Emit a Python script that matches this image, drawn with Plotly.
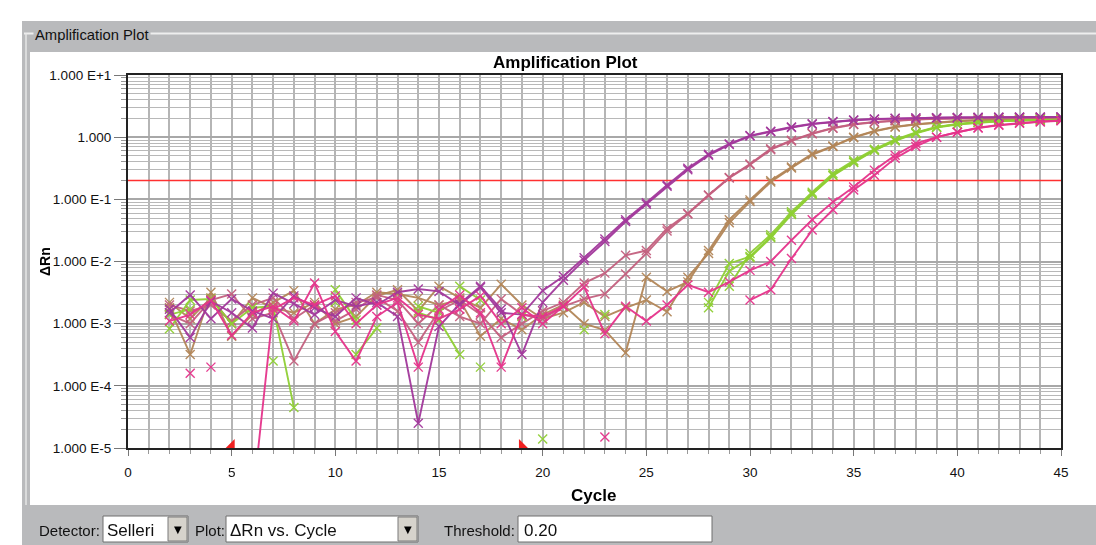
import math
import plotly.graph_objects as go

# ---------------- data ----------------
cycles = list(range(2, 46))

purple_a = [1.7e-3, 6.0e-4, 2.3e-3, 1.5e-3, 8.5e-4, 3.1e-3, 2.1e-3, 1.4e-3, 2.4e-3, 1.9e-3,
            2.2e-3, 1.3e-3, 2.5e-5, 9.0e-4, 2.1e-3, 4.0e-3, 1.7e-3, 3.2e-4, 2.2e-3, 5.0e-3,
            0.0105, 0.021, 0.044, 0.083, 0.162, 0.30, 0.51, 0.76, 1.04, 1.22,
            1.43, 1.62, 1.76, 1.87, 1.95, 2.0, 2.03, 2.05, 2.07, 2.08,
            2.09, 2.1, 2.1, 2.11]
purple_b = [1.5e-3, 2.9e-3, 1.2e-3, 2.5e-3, 1.6e-3, 1.2e-3, 2.8e-3, 1.8e-3, 1.3e-3, 2.6e-3,
            2.0e-3, 3.2e-3, 3.6e-3, 3.3e-3, 2.0e-3, 3.8e-3, 1.5e-3, 1.4e-3, 3.4e-3, 5.8e-3,
            0.0115, 0.023, 0.047, 0.088, 0.17, 0.315, 0.53, 0.78, 1.06, 1.25,
            1.46, 1.64, 1.78, 1.89, 1.96, 2.01, 2.04, 2.06, 2.08, 2.09,
            2.1, 2.11, 2.11, 2.12]
mauve_a = [1.4e-3, 1.0e-3, 2.4e-3, 3.0e-3, 1.2e-3, 1.5e-3, 2.5e-4, 1.0e-3, 1.5e-3, 2.2e-3,
           2.6e-3, 1.6e-3, 5.0e-4, 1.6e-3, 2.4e-3, 1.4e-3, 6.0e-4, 1.0e-3, 1.6e-3, 2.2e-3,
           4.5e-3, 6.5e-3, 0.0126, 0.015, 0.034, 0.059, 0.117, 0.224, 0.37, 0.65,
           0.89, 1.15, 1.41, 1.62, 1.76, 1.85, 1.93, 1.98, 2.02, 2.04,
           2.06, 2.07, 2.08, 2.09]
mauve_b = [2.0e-3, 1.6e-3, 2.0e-3, 1.1e-3, 2.0e-3, 2.6e-3, 1.2e-3, 2.0e-3, 1.1e-3, 1.7e-3,
           2.9e-3, 2.4e-3, 1.0e-3, 2.0e-3, 1.3e-3, 1.0e-3, 2.5e-3, 1.4e-3, 1.2e-3, 1.9e-3,
           2.5e-3, 3.0e-3, 6.3e-3, 0.0135, 0.031, 0.058, 0.115, 0.22, 0.36, 0.63,
           0.87, 1.13, 1.39, 1.6, 1.74, 1.84, 1.92, 1.97, 2.01, 2.03,
           2.05, 2.06, 2.07, 2.08]
brown_a = [1.8e-3, 3.2e-4, 3.2e-3, 6.3e-4, 1.4e-3, 2.2e-3, 3.4e-3, 1.0e-3, 1.7e-3, 2.0e-3,
           3.2e-3, 3.0e-3, 2.6e-3, 2.0e-3, 2.4e-3, 6.3e-4, 1.2e-3, 8.0e-4, 1.4e-3, 2.0e-3,
           1.0e-3, 7.9e-4, 3.4e-4, 5.6e-3, 3.3e-3, 4.7e-3, 0.015, 0.047, 0.098, 0.20,
           0.33, 0.54, 0.72, 1.0, 1.26, 1.47, 1.62, 1.74, 1.82, 1.88,
           1.93, 1.96, 1.98, 2.0]
brown_b = [2.2e-3, 1.2e-3, 2.6e-3, 1.0e-3, 2.6e-3, 1.8e-3, 1.5e-3, 2.2e-3, 1.0e-3, 1.3e-3,
           2.8e-3, 3.5e-3, 1.6e-3, 4.0e-3, 2.6e-3, 1.8e-3, 4.3e-3, 2.0e-3, 1.2e-3, 1.5e-3,
           2.2e-3, 1.3e-3, 1.8e-3, 2.4e-3, 1.55e-3, 5.6e-3, 0.0135, 0.042, 0.092, 0.19,
           0.32, 0.52, 0.71, 0.98, 1.24, 1.45, 1.6, 1.72, 1.8, 1.87,
           1.92, 1.95, 1.97, 1.99]
green_a = [8.3e-4, 2.4e-3, 2.5e-3, 1.0e-3, 1.8e-3, 1.9e-3, 4.5e-5, None, 3.5e-3, 1.15e-3,
           None, None, 1.5e-3, 1.15e-3, 3.2e-4, None, None, 1.3e-3, None, None,
           8.0e-4, None, None, None, None, None, 2.2e-3, 9.3e-3, 0.012, 0.025,
           0.059, 0.123, 0.245, 0.40, 0.62, 0.89, 1.17, 1.45, 1.62, 1.74,
           1.82, 1.86, 1.89, 1.9]
green_b = [1.4e-3, 1.7e-3, None, None, None, 2.5e-4, None, None, 2.2e-3, None,
           None, None, 1.9e-3, 1.5e-3, None, 2.0e-4, None, None, 1.4e-5, None,
           None, None, None, None, None, None, None, 4.0e-3, 0.0135, 0.027,
           0.063, 0.13, 0.26, 0.42, 0.64, 0.91, 1.19, 1.46, 1.63, 1.75,
           1.82, 1.87, 1.9, 1.91]
green_c = [None, None, None, None, None, None, None, None, None, 3.2e-4,
           8.5e-4, None, None, None, 4.0e-3, 2.4e-3, None, None, None, None,
           None, 1.4e-3, None, None, None, None, 1.8e-3, 7.0e-3, 0.0115, 0.024,
           0.057, 0.12, 0.24, 0.39, 0.61, 0.87, 1.15, 1.43, 1.6, 1.72,
           1.8, 1.85, 1.88, 1.89]
pink_a = [1.1e-3, 1.4e-3, 2.4e-3, 6.5e-4, 1.5e-3, 1.9e-3, 1.1e-3, 4.5e-3, 7.5e-4, 2.5e-4,
          1.3e-3, 2.2e-3, 2.0e-4, 1.7e-3, 2.9e-3, 1.5e-3, 2.0e-4, 1.4e-3, 1.3e-3, 1.9e-3,
          3.9e-3, 6.9e-4, 1.9e-3, 1.1e-3, 2.0e-3, 4.2e-3, 3.2e-3, 4.7e-3, 7.2e-3, 0.010,
          0.022, 0.047, 0.091, 0.158, 0.295, 0.51, 0.79, 1.0, 1.2, 1.42,
          1.58, 1.7, 1.79, 1.85]
pink_b = [None, 1.6e-4, None, None, 1.3e-6, 1.7e-3, 2.6e-3, 2.0e-3, 2.8e-3, 1.0e-3,
          2.0e-3, 2.6e-3, 1.4e-3, 1.2e-3, 1.7e-3, 2.8e-3, 1.0e-3, 1.8e-3, 1.0e-3, 1.9e-3,
          None, 1.5e-5, None, None, None, None, None, None, 2.4e-3, 3.5e-3,
          0.0112, 0.032, 0.068, 0.141, 0.245, 0.457, 0.71, 1.0, 1.2, 1.4,
          1.55, 1.67, 1.76, 1.83]
pink_c = [None, None, 2.0e-4, None, None, None, None, None, None, None,
          None, None, None, None, None, None, None, None, None, None,
          None, None, None, None, None, None, None, None, None, None,
          None, None, None, None, None, None, None, None, None, None,
          None, None, None, None]

threshold = 0.20
baseline_cycles = [5, 19]

x_tick_values = [0, 5, 10, 15, 20, 25, 30, 35, 40, 45]
y_tick_values = [1e1, 1, 1e-1, 1e-2, 1e-3, 1e-4, 1e-5]
y_tick_labels = ["1.000 E+1", "1.000", "1.000 E-1", "1.000 E-2",
                 "1.000 E-3", "1.000 E-4", "1.000 E-5"]

# ---------------- styling ----------------
PURPLE = "#a2379b"
MAUVE = "#c4607f"
BROWN = "#b38658"
GREEN = "#8fcf34"
PINK = "#e5338b"
FRAME = "#b9babc"
FONT = "Liberation Sans, Arial, sans-serif"

series = [
    (brown_a, BROWN), (brown_b, BROWN),
    (mauve_a, MAUVE), (mauve_b, MAUVE),
    (green_a, GREEN), (green_b, GREEN), (green_c, GREEN),
    (purple_a, PURPLE), (purple_b, PURPLE),
    (pink_a, PINK), (pink_b, PINK), (pink_c, PINK),
]

fig = go.Figure()

# threshold line
fig.add_trace(go.Scatter(
    x=[0, 45], y=[threshold, threshold], mode="lines",
    line=dict(color="#ff3030", width=1.5), hoverinfo="skip",
))

for values, color in series:
    fig.add_trace(go.Scatter(
        x=cycles, y=values, mode="lines+markers",
        line=dict(color=color, width=1.9),
        marker=dict(symbol="x-thin", size=9, color=color,
                    line=dict(width=1.4, color=color)),
        opacity=0.95, connectgaps=False, hoverinfo="skip",
    ))

# baseline start / end markers
fig.add_trace(go.Scatter(
    x=baseline_cycles, y=[1.12e-5, 1.12e-5], mode="markers",
    marker=dict(symbol=["triangle-se", "triangle-sw"], size=10, color="#f02020"),
    cliponaxis=False, hoverinfo="skip",
))

L, R, T, B = 128, 35, 75, 97
W, H = 1096, 545
PW, PH = W - L - R, H - T - B


def fx(px):
    return (px - L) / PW


def fy(py):
    return (T + PH - py) / PH


shapes = [
    dict(type="rect", xref="paper", yref="paper", x0=fx(22), x1=fx(1096), y0=fy(545), y1=fy(21),
         fillcolor=FRAME, line=dict(width=0), layer="below"),
    dict(type="rect", xref="paper", yref="paper", x0=fx(30), x1=fx(1096), y0=fy(505), y1=fy(52),
         fillcolor="white", line=dict(width=0), layer="below"),
    dict(type="line", xref="paper", yref="paper", x0=fx(24), x1=fx(1096), y0=fy(33.5), y1=fy(33.5),
         line=dict(color="#eeeeee", width=2), layer="below"),
    dict(type="line", xref="paper", yref="paper", x0=fx(26), x1=fx(26), y0=fy(505), y1=fy(33.5),
         line=dict(color="#e6e6e6", width=1.5), layer="below"),
]

# bottom controls
for x0, x1 in [(103, 188), (226, 418), (518, 712)]:
    shapes.append(dict(type="rect", xref="paper", yref="paper", x0=fx(x0), x1=fx(x1),
                       y0=fy(542), y1=fy(516), fillcolor="white",
                       line=dict(color="#6e6e6e", width=1), layer="above"))
for x0, x1 in [(168, 187), (398, 417)]:
    shapes.append(dict(type="rect", xref="paper", yref="paper", x0=fx(x0), x1=fx(x1),
                       y0=fy(541), y1=fy(517), fillcolor="#d6d3cc",
                       line=dict(color="#7a7a7a", width=1), layer="above"))


def label(text, px, py, size, anchor="left", angle=0, bg=None, color="#111", family=FONT):
    d = dict(text=text, x=fx(px), y=fy(py), xref="paper", yref="paper",
             xanchor=anchor, yanchor="middle", showarrow=False, textangle=angle,
             font=dict(size=size, color=color, family=family))
    if bg:
        d["bgcolor"] = bg
    return d


annotations = [
    label("Amplification Plot", 33, 35, 14.8, bg=FRAME),
    label("<b>Amplification Plot</b>", 565, 63, 17, anchor="center", color="black"),
    label("<b>Cycle</b>", 593, 495, 17, anchor="center", color="black"),
    label("<b>ΔRn</b>", 45, 262, 14, anchor="center", angle=-90, color="black"),
    label("Detector:", 37, 530, 15),
    label("Selleri", 105, 530, 17),
    label("▼", 177.5, 529, 10, anchor="center", color="black", family="DejaVu Sans"),
    label("Plot:", 193, 530, 15),
    label("ΔRn vs. Cycle", 228, 530, 17),
    label("▼", 407.5, 529, 10, anchor="center", color="black", family="DejaVu Sans"),
    label("Threshold:", 442, 530, 15),
    label(f"{threshold:.2f}", 522, 530, 17),
]

minor_y = [m * 10.0 ** e for e in range(-5, 1) for m in range(2, 10)]

fig.update_layout(
    width=W, height=H,
    margin=dict(l=L, r=R, t=T, b=B, pad=0),
    paper_bgcolor="white", plot_bgcolor="white",
    showlegend=False,
    font=dict(family=FONT, size=13, color="black"),
    shapes=shapes, annotations=annotations,
    xaxis=dict(
        range=[0, 45], tickmode="array", tickvals=x_tick_values,
        ticktext=[str(v) for v in x_tick_values],
        ticks="outside", ticklen=6, tickcolor="#777", ticklabelstandoff=5,
        showgrid=True, gridcolor="#b5b5b5", gridwidth=1.5,
        minor=dict(dtick=1, tick0=0, showgrid=True, gridcolor="#b5b5b5", gridwidth=1.5,
                   ticks="outside", ticklen=4, tickcolor="#999"),
        showline=True, linecolor="#222", linewidth=2, mirror=True, zeroline=False,
        tickfont=dict(size=13.5, color="#111"),
    ),
    yaxis=dict(
        type="log", range=[-5, 1], tickmode="array", tickvals=y_tick_values,
        ticktext=y_tick_labels, ticks="outside", ticklen=12, tickcolor="#777",
        showgrid=True, gridcolor="#a8a8a8", gridwidth=1.5,
        minor=dict(tickmode="array", tickvals=minor_y, showgrid=True, gridwidth=1.2,
                   gridcolor="#b8b8b8", ticks="outside", ticklen=5, tickcolor="#999"),
        showline=True, linecolor="#222", linewidth=2, mirror=True, zeroline=False,
        tickfont=dict(size=13.5, color="#111"),
    ),
)

fig.write_html(
    "out.html",
    config={"displayModeBar": False},
    post_script="document.body.style.margin='0px';document.body.style.overflow='hidden';",
)
